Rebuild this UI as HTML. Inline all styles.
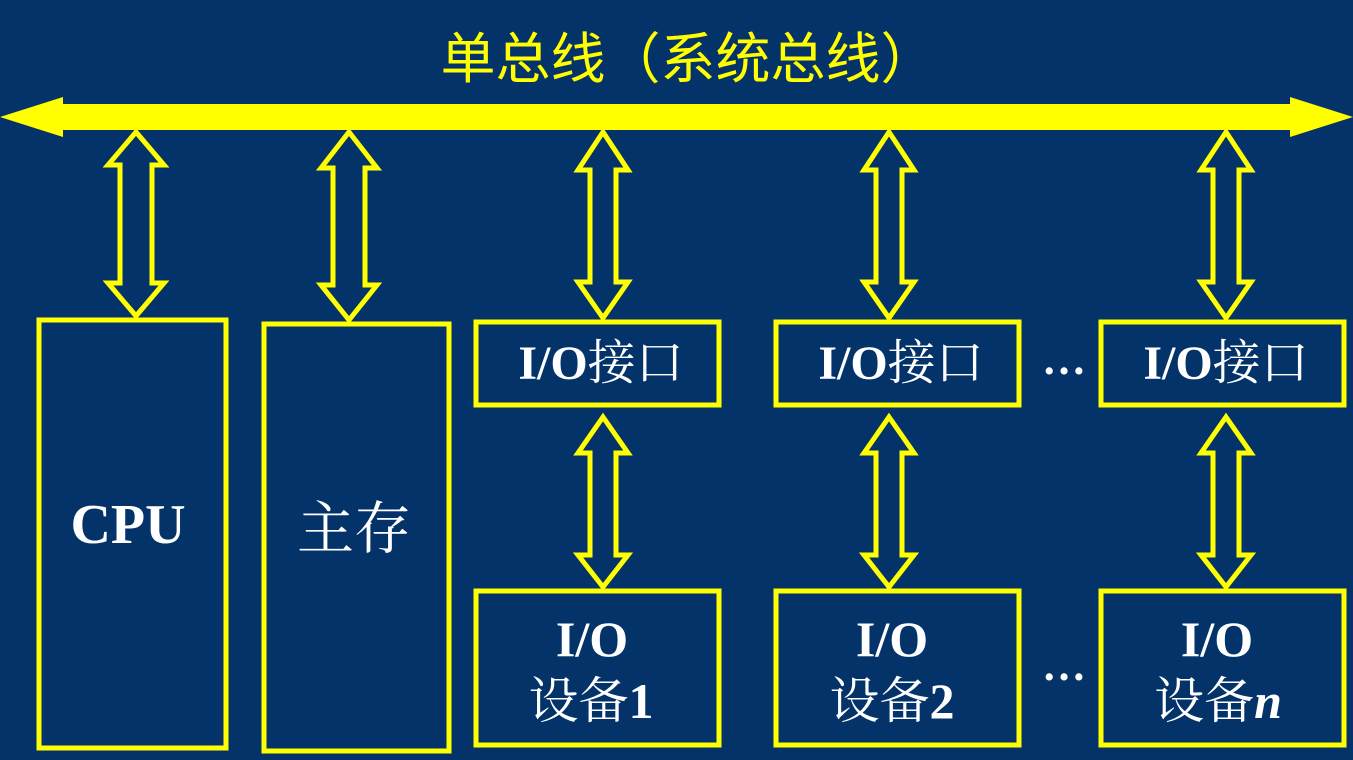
<!DOCTYPE html>
<html><head><meta charset="utf-8"><style>
html,body{margin:0;padding:0;background:#04336a;}
svg{display:block}
</style></head><body>
<svg width="1353" height="760" viewBox="0 0 1353 760" xmlns="http://www.w3.org/2000/svg">
<rect width="1353" height="760" fill="#04336a"/>
<text x="688" y="78" text-anchor="middle" fill="#ffff00" font-size="55" font-family="'Liberation Sans','Noto Sans CJK SC',sans-serif">单总线（系统总线）</text>
<polygon points="0,117 63,97 63,104 1290,104 1290,97 1353,117 1290,137 1290,130 63,130 63,137" fill="#ffff00"/>
<g fill="none" stroke="#ffff00" stroke-width="5" stroke-linejoin="miter">
<polygon points="136,132 164,165 152,165 152,283 164,283 136,316 108,283 120,283 120,165 108,165"/>
<polygon points="349,132 377,168 365,168 365,285 377,285 349,320 321,285 333,285 333,168 321,168"/>
<polygon points="603,132 628,170 616,170 616,282 628,282 603,318 578,282 590,282 590,170 578,170"/>
<polygon points="889,132 914,170 902,170 902,282 914,282 889,318 864,282 876,282 876,170 864,170"/>
<polygon points="1226,132 1251,170 1239,170 1239,282 1251,282 1226,318 1201,282 1213,282 1213,170 1201,170"/>
<polygon points="603,417 628,453 616,453 616,555 628,555 603,587 578,555 590,555 590,453 578,453"/>
<polygon points="889,417 914,453 902,453 902,555 914,555 889,587 864,555 876,555 876,453 864,453"/>
<polygon points="1226,417 1251,453 1239,453 1239,555 1251,555 1226,587 1201,555 1213,555 1213,453 1201,453"/>
<rect x="39" y="320" width="187" height="428"/>
<rect x="264" y="324" width="185" height="427"/>
<rect x="476" y="322" width="243" height="83"/>
<rect x="776" y="322" width="243" height="83"/>
<rect x="1101" y="322" width="243" height="83"/>
<rect x="476" y="591" width="243" height="154"/>
<rect x="776" y="591" width="243" height="154"/>
<rect x="1101" y="591" width="243" height="154"/>
</g>
<g fill="#ffffff" font-family="'Liberation Serif','Noto Serif CJK SC',serif" text-anchor="middle">
<text x="128" y="543" font-size="56" font-weight="bold">CPU</text>
<text x="354" y="548" font-size="57">主存</text>
<text x="601" y="379" font-size="48"><tspan font-weight="bold">I/O</tspan>接口</text>
<text x="901" y="379" font-size="48"><tspan font-weight="bold">I/O</tspan>接口</text>
<text x="1226" y="379" font-size="48"><tspan font-weight="bold">I/O</tspan>接口</text>
<text x="592" y="656" font-size="50" font-weight="bold">I/O</text>
<text x="591" y="718" font-size="50">设备<tspan font-weight="bold">1</tspan></text>
<text x="892" y="656" font-size="50" font-weight="bold">I/O</text>
<text x="892" y="718" font-size="50">设备<tspan font-weight="bold">2</tspan></text>
<text x="1217" y="656" font-size="50" font-weight="bold">I/O</text>
<text x="1218" y="718" font-size="50">设备<tspan font-weight="bold" font-style="italic">n</tspan></text>
<text x="1064" y="374" font-size="44" font-weight="bold">…</text>
<text x="1064" y="680" font-size="44" font-weight="bold">…</text>
</g>
</svg>
</body></html>
